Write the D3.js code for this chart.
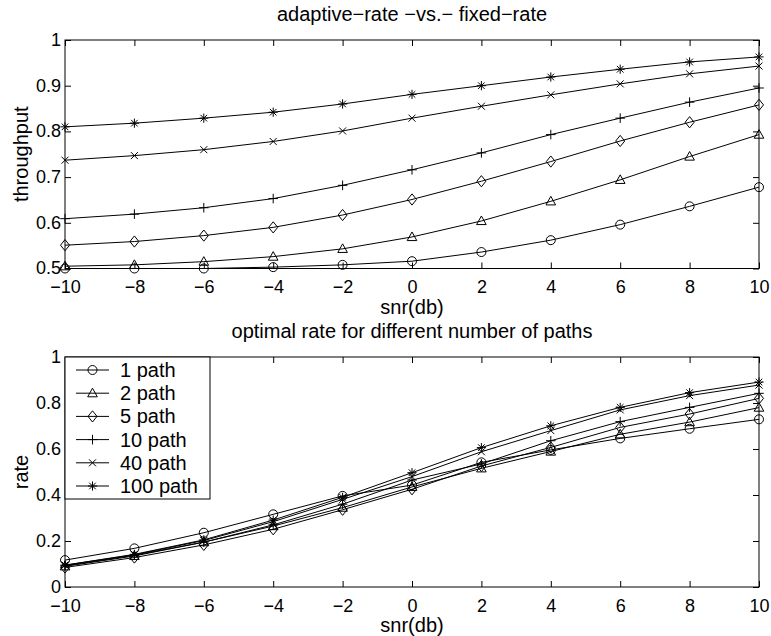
<!DOCTYPE html>
<html>
<head>
<meta charset="utf-8">
<script src="https://cdnjs.cloudflare.com/ajax/libs/d3/7.8.5/d3.min.js"></script>
<style>
body { margin: 0; background: #fff; }
svg text { font-family: "Liberation Sans", Arial, sans-serif; fill: #000; }
</style>
</head>
<body>
<div id="chart"></div>
<script>
// x values (dB) and tick labels
var snr = [-10, -8, -6, -4, -2, 0, 2, 4, 6, 8, 10];
var xTicks = [-10, -8, -6, -4, -2, 0, 2, 4, 6, 8, 10];
var topYTicks = [0.5, 0.6, 0.7, 0.8, 0.9, 1];
var botYTicks = [0, 0.2, 0.4, 0.6, 0.8, 1];

var seriesNames = ["1 path", "2 path", "5 path", "10 path", "40 path", "100 path"];
var markerTypes = ["circle", "triangle", "diamond", "plus", "cross", "star"];

// top panel: throughput, adaptive vs fixed rate
var throughput1   = [0.500, 0.500, 0.500, 0.503, 0.508, 0.516, 0.536, 0.562, 0.596, 0.636, 0.678];
var throughput2   = [0.505, 0.508, 0.515, 0.526, 0.543, 0.569, 0.604, 0.647, 0.694, 0.745, 0.793];
var throughput5   = [0.551, 0.559, 0.572, 0.590, 0.617, 0.651, 0.691, 0.734, 0.779, 0.820, 0.858];
var throughput10  = [0.609, 0.619, 0.633, 0.653, 0.682, 0.716, 0.753, 0.793, 0.829, 0.864, 0.895];
var throughput40  = [0.737, 0.747, 0.760, 0.778, 0.801, 0.829, 0.855, 0.880, 0.904, 0.926, 0.943];
var throughput100 = [0.810, 0.818, 0.829, 0.842, 0.860, 0.881, 0.900, 0.919, 0.936, 0.952, 0.963];

// bottom panel: optimal rate
var rate1   = [0.117, 0.168, 0.236, 0.316, 0.396, 0.443, 0.542, 0.596, 0.646, 0.688, 0.729];
var rate2   = [0.090, 0.135, 0.195, 0.265, 0.345, 0.435, 0.516, 0.589, 0.664, 0.717, 0.780];
var rate5   = [0.085, 0.128, 0.183, 0.251, 0.336, 0.425, 0.526, 0.607, 0.694, 0.752, 0.820];
var rate10  = [0.092, 0.138, 0.195, 0.270, 0.360, 0.465, 0.535, 0.636, 0.719, 0.781, 0.842];
var rate40  = [0.095, 0.140, 0.202, 0.284, 0.381, 0.480, 0.588, 0.680, 0.770, 0.832, 0.878];
var rate100 = [0.095, 0.142, 0.205, 0.291, 0.390, 0.497, 0.606, 0.701, 0.781, 0.845, 0.891];

var throughputSeries = [throughput1, throughput2, throughput5, throughput10, throughput40, throughput100];
var rateSeries = [rate1, rate2, rate5, rate10, rate40, rate100];

var width = 771, height = 636;
var left = 65, right = 759;
var fmt = d3.format("~g");

var svg = d3.select("#chart").append("svg")
    .attr("width", width)
    .attr("height", height);

svg.append("rect").attr("width", width).attr("height", height).attr("fill", "#fff");

var x = d3.scaleLinear().domain([-10, 10]).range([left, right]);

function markerPath(t) {
    var r = 4.5;
    switch (t) {
        case "circle":
            return "M" + (-r) + ",0A" + r + "," + r + " 0 1,0 " + r + ",0A" + r + "," + r + " 0 1,0 " + (-r) + ",0Z";
        case "triangle":
            return "M0,-5L4.8,3.6L-4.8,3.6Z";
        case "diamond":
            return "M0,-5.6L4.5,0L0,5.6L-4.5,0Z";
        case "plus":
            return "M-4.8,0H4.8M0,-4.8V4.8";
        case "cross":
            return "M-3.5,-3.5L3.5,3.5M-3.5,3.5L3.5,-3.5";
        case "star":
            return "M-4.6,0H4.6M0,-4.6V4.6M-3.3,-3.3L3.3,3.3M-3.3,3.3L3.3,-3.3";
    }
}

function drawPanel(top, bottom, yDomain, yTicks, series, title, ylabel) {
    var y = d3.scaleLinear().domain(yDomain).range([bottom, top]);
    var g = svg.append("g");

    // bottom axis with labels, ticks pointing in
    var xb = g.append("g")
        .attr("transform", "translate(0," + bottom + ")")
        .call(d3.axisBottom(x).tickValues(xTicks).tickSizeInner(-6).tickSizeOuter(0).tickPadding(12).tickFormat(fmt));
    // top axis, ticks only
    var xt = g.append("g")
        .attr("transform", "translate(0," + top + ")")
        .call(d3.axisTop(x).tickValues(xTicks).tickSizeInner(-6).tickSizeOuter(0).tickFormat(""));
    var yl = g.append("g")
        .attr("transform", "translate(" + left + ",0)")
        .call(d3.axisLeft(y).tickValues(yTicks).tickSizeInner(-6).tickSizeOuter(0).tickPadding(4).tickFormat(fmt));
    var yr = g.append("g")
        .attr("transform", "translate(" + right + ",0)")
        .call(d3.axisRight(y).tickValues(yTicks).tickSizeInner(-6).tickSizeOuter(0).tickFormat(""));

    [xb, xt, yl, yr].forEach(function(a) {
        a.select(".domain").remove();
        a.attr("font-family", null).attr("font-size", 18);
        a.selectAll("line").attr("stroke", "#000");
    });
    yl.selectAll("text").attr("dy", "0.3em");

    // series lines and markers
    var line = d3.line()
        .x(function(d, i) { return x(snr[i]); })
        .y(function(d) { return y(d); });

    series.forEach(function(vals, k) {
        g.append("path")
            .datum(vals)
            .attr("d", line)
            .attr("fill", "none")
            .attr("stroke", "#000")
            .attr("stroke-width", 1);
        g.selectAll(".m" + k)
            .data(vals)
            .enter()
            .append("path")
            .attr("class", "m" + k)
            .attr("transform", function(d, i) { return "translate(" + x(snr[i]) + "," + y(d) + ")"; })
            .attr("d", markerPath(markerTypes[k]))
            .attr("fill", "none")
            .attr("stroke", "#000")
            .attr("stroke-width", 1);
    });

    // box
    g.append("rect")
        .attr("x", left).attr("y", top)
        .attr("width", right - left).attr("height", bottom - top)
        .attr("fill", "none").attr("stroke", "#000").attr("stroke-width", 1);

    g.append("text")
        .attr("x", (left + right) / 2).attr("y", top - 19)
        .attr("text-anchor", "middle").attr("font-size", 20)
        .text(title);
    g.append("text")
        .attr("x", (left + right) / 2).attr("y", bottom + 45)
        .attr("text-anchor", "middle").attr("font-size", 20)
        .text("snr(db)");
    g.append("text")
        .attr("transform", "translate(28," + (top + bottom) / 2 + ") rotate(-90)")
        .attr("text-anchor", "middle").attr("font-size", 20)
        .text(ylabel);

    return g;
}

drawPanel(40, 268.5, [0.5, 1], topYTicks, throughputSeries, "adaptive\u2212rate \u2212vs.\u2212 fixed\u2212rate", "throughput");
var bot = drawPanel(357, 587, [0, 1], botYTicks, rateSeries, "optimal rate for different number of paths", "rate");

// legend
var leg = bot.append("g");
leg.append("rect")
    .attr("x", left).attr("y", 357)
    .attr("width", 145).attr("height", 142)
    .attr("fill", "#fff").attr("stroke", "#000").attr("stroke-width", 1);

var items = leg.selectAll(".item")
    .data(seriesNames)
    .enter()
    .append("g")
    .attr("class", "item")
    .attr("transform", function(d, i) { return "translate(0," + (370 + i * 23.2) + ")"; });

items.append("line")
    .attr("x1", 76).attr("x2", 109)
    .attr("stroke", "#000").attr("stroke-width", 1);
items.append("path")
    .attr("transform", "translate(92.5,0)")
    .attr("d", function(d, i) { return markerPath(markerTypes[i]); })
    .attr("fill", "none").attr("stroke", "#000");
items.append("text")
    .attr("x", 120).attr("y", 7)
    .attr("font-size", 20)
    .text(function(d) { return d; });
</script>
</body>
</html>
